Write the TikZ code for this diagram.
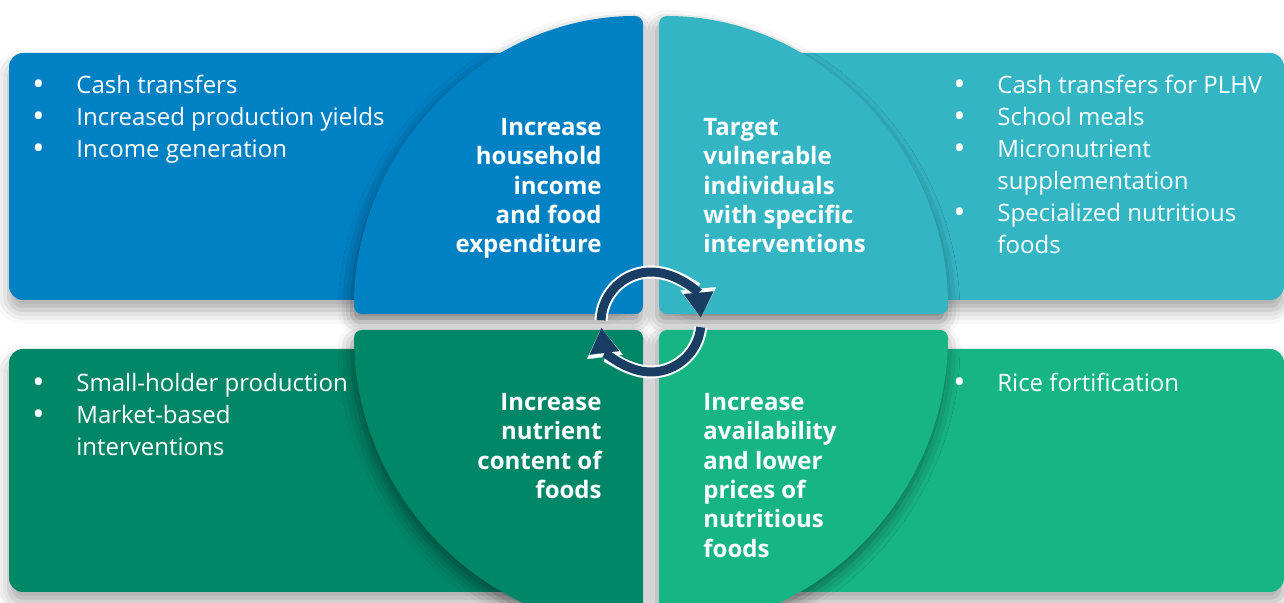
\documentclass[tikz,border=0pt]{standalone}
\usepackage{graphicx}
\usepackage{fontspec}
\setmainfont{Open Sans}
\usetikzlibrary{arrows.meta,shadows.blur}

\definecolor{incblue}{RGB}{0,129,196}
\definecolor{tgtteal}{RGB}{52,181,196}
\definecolor{nutgreen}{RGB}{0,135,104}
\definecolor{avlgreen}{RGB}{23,180,132}
\definecolor{cyclenavy}{RGB}{26,61,99}

% bullet and hanging indent for the lists
\newcommand{\bul}{\makebox[22pt][l]{\raisebox{-0.7pt}{\scalebox{1.35}{\textbullet}}}}
\newcommand{\cont}{\hspace*{22pt}}

\begin{document}
\begin{tikzpicture}[x=0.5pt,y=0.5pt,
  panel/.style={rounded corners=7pt,
    blur shadow={shadow xshift=0pt,shadow yshift=-5pt,shadow blur radius=7pt,shadow opacity=35}},
  quarter/.style={rounded corners=4pt,
    blur shadow={shadow xshift=-1pt,shadow yshift=-4pt,shadow blur radius=7pt,shadow opacity=45}},
  list/.style={anchor=north west,inner sep=0pt,align=left,text=white,
    font=\fontsize{12}{16}\selectfont},
  head/.style={inner sep=0pt,text=white,font=\fontsize{12}{14.65}\selectfont\bfseries},
  cyclehalo/.style={line width=6.5pt,white,-{Triangle[width=18pt,length=14.5pt,line width=0.1pt]}},
  cyclearc/.style={line width=4.5pt,cyclenavy,-{Triangle[width=15pt,length=12.5pt,line width=0.1pt]}}]

\useasboundingbox (0,0) rectangle (1284,603);
\clip (0,0) rectangle (1284,603);

% side panels
\fill[panel,incblue] (9,303) rectangle (620,550);
\fill[panel,tgtteal] (680,303) rectangle (1284,550);
\fill[panel,nutgreen] (9,11) rectangle (620,254);
\fill[panel,avlgreen] (680,11) rectangle (1284,254);

% the four quarters of the disc
\fill[quarter,incblue] (643,289) -- (354,289) arc[start angle=180,end angle=90,x radius=289,y radius=298] -- cycle;
\fill[quarter,tgtteal] (659,289) -- (659,587) arc[start angle=90,end angle=0,x radius=289,y radius=298] -- cycle;
\fill[quarter,nutgreen] (643,273) -- (354,273) arc[start angle=180,end angle=270,x radius=289,y radius=298] -- cycle;
\fill[quarter,avlgreen] (659,273) -- (948,273) arc[start angle=0,end angle=-90,x radius=289,y radius=298] -- cycle;

% headings
\node[head,anchor=north east,align=right] (income) at (602,485) {Increase\\household\\income\\and food\\expenditure};
\node[head,anchor=north west,align=left] (target) at (703,485) {Target\\vulnerable\\individuals\\with specific\\interventions};
\node[head,anchor=north east,align=right] (nutrient) at (602,210) {Increase\\nutrient\\content of\\foods};
\node[head,anchor=north west,align=left] (supply) at (703,210) {Increase\\availability\\and lower\\prices of\\nutritious\\foods};

% lists
\node[list] (incomelist) at (32,528) {\bul Cash transfers\\\bul Increased production yields\\\bul Income generation};
\node[list] (targetlist) at (953,528) {\bul Cash transfers for PLHV\\\bul School meals\\\bul Micronutrient\\\cont supplementation\\\bul Specialized nutritious\\\cont foods};
\node[list] (nutrientlist) at (32,230) {\bul Small-holder production\\\bul Market-based\\\cont interventions};
\node[list] (supplylist) at (953,230) {\bul Rice fortification};

% cycle in the middle
\coordinate (hub) at (651,281);
\foreach \s in {cyclehalo,cyclearc}
  \foreach \a/\b in {178/5,-6/-173}
    \draw[\s] ([shift={(\a:50)}]hub) arc[start angle=\a,end angle=\b,radius=50];
\end{tikzpicture}
\end{document}
